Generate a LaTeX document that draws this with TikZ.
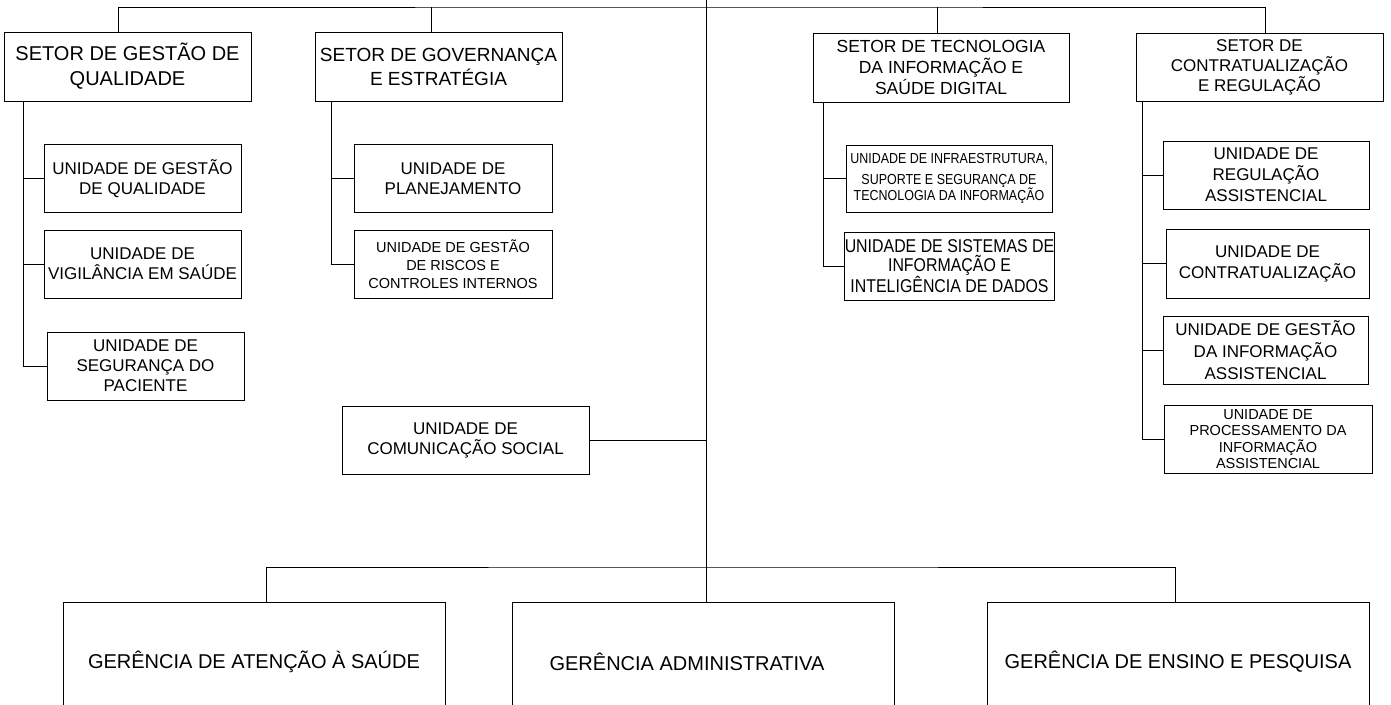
\documentclass[tikz,border=0pt]{standalone}
\usepackage{fontspec}
\setmainfont{Liberation Sans}
\newfontfamily\narrowfont[FakeStretch=0.86]{Liberation Sans}
\usepackage{tikz}

\begin{document}
\begin{tikzpicture}[x=1pt, y=-1pt, line width=0.7pt,
        every node/.append style={inner sep=0pt, align=center}]
      \tikzstyle{setor} = [draw, minimum width=247pt, minimum height=69pt]
      \tikzstyle{unidade} = [draw, minimum width=197pt, minimum height=68pt, font=\fontsize{17}{20}\selectfont]
      \tikzstyle{gerencia} = [draw, line width=1pt, minimum width=382pt, minimum height=120pt, font=\fontsize{20}{24}\selectfont]
      \useasboundingbox (0,0) rectangle (1391,704);
      \coordinate (root) at (706,0);
      \coordinate (ttop) at (706,7);
      \coordinate (bar) at (706,567);
      \node (sgq) [setor, font=\fontsize{20}{25}\selectfont] at (127.5,66.5) {SETOR DE GESTÃO DE\\QUALIDADE};
      \node (sge) [setor, font=\fontsize{19}{24}\selectfont] at (438.5,66.5) {SETOR DE GOVERNANÇA\\E ESTRATÉGIA};
      \node (sti) [setor, minimum width=256pt, font=\fontsize{17.5}{21}\selectfont] at (941,67.5) {SETOR DE TECNOLOGIA\\DA INFORMAÇÃO E\\SAÚDE DIGITAL};
      \node (scr) [setor, minimum height=68pt, font=\fontsize{17}{20}\selectfont] at (1259.5,67) {SETOR DE\\CONTRATUALIZAÇÃO\\E REGULAÇÃO};
      \node (ugq) [unidade] at (142.5,178.5) {UNIDADE DE GESTÃO\\DE QUALIDADE};
      \node (uvs) [unidade] at (142.5,264) {UNIDADE DE\\VIGILÂNCIA EM SAÚDE};
      \node (usp) [unidade] at (145.5,366) {UNIDADE DE\\SEGURANÇA DO\\PACIENTE};
      \node (upl) [unidade, minimum width=198pt] at (453,178.5) {UNIDADE DE\\PLANEJAMENTO};
      \node (urc) [unidade, minimum width=198pt, font=\fontsize{14.5}{18}\selectfont] at (453,264) {UNIDADE DE GESTÃO\\DE RISCOS E\\CONTROLES INTERNOS};
      \node (uinf) [unidade, minimum width=206pt, minimum height=67pt, font=\narrowfont\fontsize{14.5}{16}\selectfont] at (949,178.5) {UNIDADE DE INFRAESTRUTURA,\\[5pt]SUPORTE E SEGURANÇA DE\\TECNOLOGIA DA INFORMAÇÃO};
      \node (usis) [unidade, minimum width=207pt, font=\narrowfont\fontsize{18.5}{19}\selectfont] at (949.5,266) {UNIDADE DE SISTEMAS DE\\INFORMAÇÃO E\\INTELIGÊNCIA DE DADOS};
      \node (ureg) [unidade, minimum width=206pt, font=\fontsize{17}{21}\selectfont] at (1266,175) {UNIDADE DE\\REGULAÇÃO\\ASSISTENCIAL};
      \node (uct) [unidade, minimum width=203pt, minimum height=69pt, font=\fontsize{17}{21}\selectfont] at (1267.5,263.5) {UNIDADE DE\\CONTRATUALIZAÇÃO};
      \node (ugi) [unidade, minimum width=205pt, font=\fontsize{17}{22}\selectfont] at (1265.5,350) {UNIDADE DE GESTÃO\\DA INFORMAÇÃO\\ASSISTENCIAL};
      \node (upr) [unidade, minimum width=208pt, font=\fontsize{14.5}{16.5}\selectfont] at (1268,439) {UNIDADE DE\\PROCESSAMENTO DA\\INFORMAÇÃO\\ASSISTENCIAL};
      \node (ucs) [unidade, minimum width=247pt] at (465.5,440) {UNIDADE DE\\COMUNICAÇÃO SOCIAL};
      \node (gas) [gerencia] at (254,662) {GERÊNCIA DE ATENÇÃO À SAÚDE};
      \node (gad) [gerencia] at (703,662) {GERÊNCIA ADMINISTRATIVA\hspace*{32pt}};
      \node (gep) [gerencia] at (1178,662) {GERÊNCIA DE ENSINO E PESQUISA};
      \draw ([xshift=-9.5pt]sgq.north) |- (ttop) -| ([xshift=5.5pt]scr.north);
      \draw ([xshift=-7.5pt]sge.north) -- ([xshift=-7.5pt]sge.north |- ttop);
      \draw ([xshift=-4pt]sti.north) -- ([xshift=-4pt]sti.north |- ttop);
      \draw (root) -- (root |- gad.north);
      \draw ([xshift=12pt]gas.north) |- (bar) -| ([xshift=-3pt]gep.north);
      \draw (ucs.east) -- (ucs.east -| root);
      \draw ([xshift=20pt]sgq.south west) |- (usp.west);
      \draw ([xshift=20pt]sgq.south west |- ugq.west) -- (ugq.west);
      \draw ([xshift=20pt]sgq.south west |- uvs.west) -- (uvs.west);
      \draw ([xshift=17pt]sge.south west) |- (urc.west);
      \draw ([xshift=17pt]sge.south west |- upl.west) -- (upl.west);
      \draw ([xshift=11pt]sti.south west) |- (usis.west);
      \draw ([xshift=11pt]sti.south west |- uinf.west) -- (uinf.west);
      \draw ([xshift=7pt]scr.south west) |- (upr.west);
      \foreach \u in {ureg,uct,ugi}
        \draw ([xshift=7pt]scr.south west |- \u.west) -- (\u.west);
\end{tikzpicture}
\end{document}
